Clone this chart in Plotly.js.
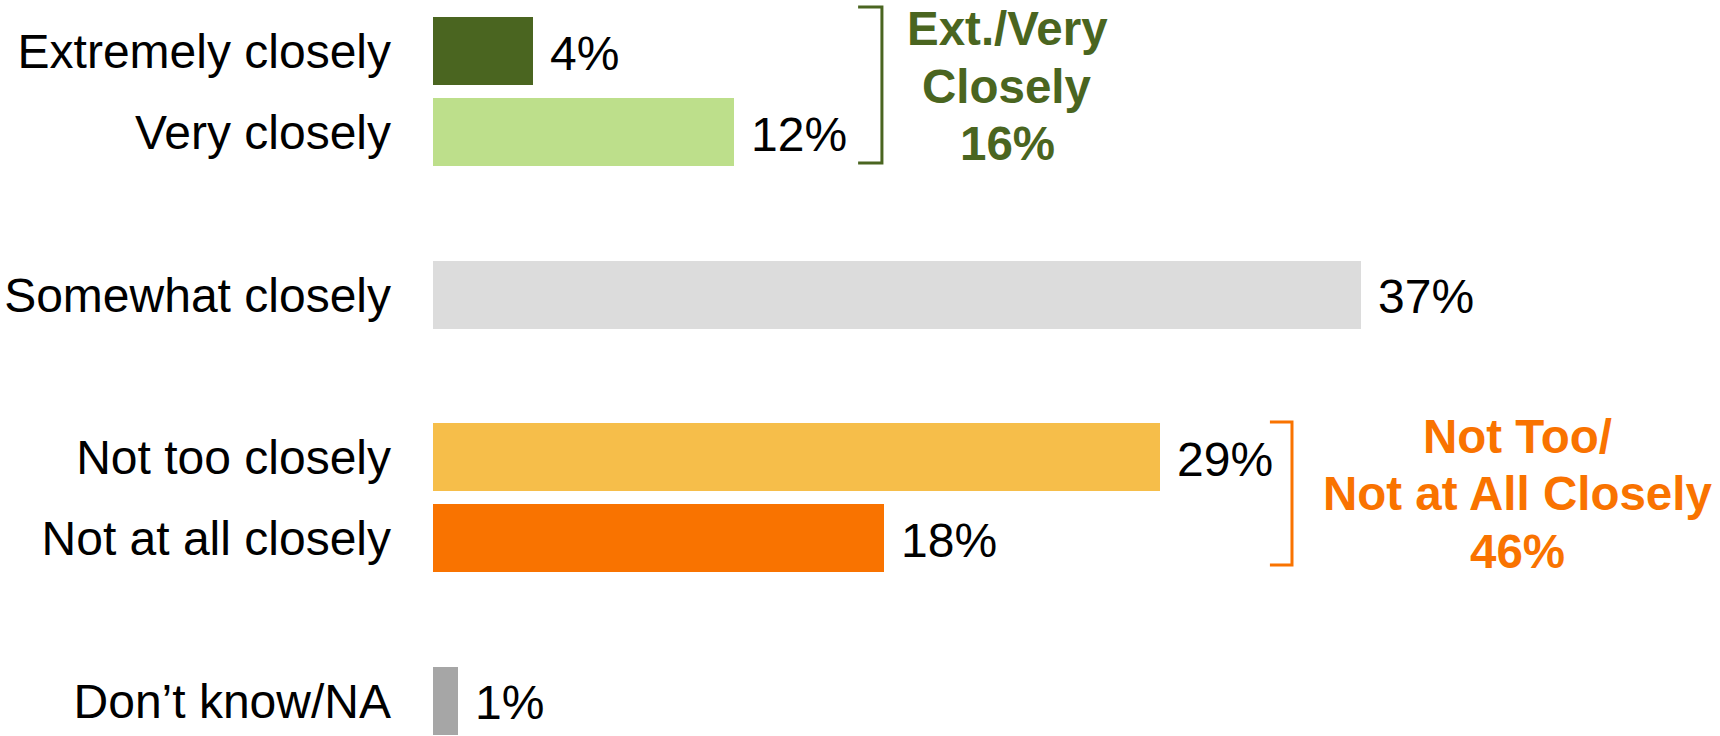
<!DOCTYPE html>
<html>
<head>
<meta charset="utf-8">
<script src="https://cdn.plot.ly/plotly-3.0.1.min.js"></script>
<style>html,body{margin:0;padding:0;background:#fff;}#chart{width:1720px;height:736px;}</style>
</head>
<body>
<div id="chart"></div>
<script>
// ---- data ----
const categories = ["Extremely closely", "Very closely", "Somewhat closely", "Not too closely", "Not at all closely", "Don\u2019t know/NA"];
const values = [4, 12, 37, 29, 18, 1];
const valueLabels = ["4%", "12%", "37%", "29%", "18%", "1%"];
const groupGreenLines = ["Ext./Very", "Closely", "16%"];
const groupOrangeLines = ["Not Too/", "Not at All Closely", "46%"];

// ---- style ----
const barColors = ["#4a6520", "#bddf8b", "#dcdcdc", "#f6be4a", "#f97300", "#a6a6a6"];
const green = "#4a6520", orange = "#f97300";
const FONT = "Liberation Sans, Arial, sans-serif";
// axis order with blank spacer categories for the gaps
const spacers = [" ", "  ", "   "];
const categoryOrder = [categories[0], categories[1], spacers[0], categories[2], spacers[1], categories[3], categories[4], spacers[2], categories[5]];
const tickText = categoryOrder.map(c => c.trim() === "" ? "" : c);

const trace = {
  type: "bar",
  orientation: "h",
  x: values,
  y: categories,
  width: 0.837,
  marker: {color: barColors},
  hoverinfo: "skip"
};

const annotations = [];
values.forEach((v, i) => {
  annotations.push({
    x: v, y: categories[i], xref: "x", yref: "y",
    text: valueLabels[i], showarrow: false, xanchor: "left", yanchor: "middle",
    xshift: 15, yshift: -2, font: {family: FONT, size: 48, color: "#000"}
  });
});
const H = 736;
const greenCenters = [29, 87, 143];
groupGreenLines.forEach((t, i) => {
  annotations.push({
    x: 22.89, y: 1 - greenCenters[i] / H, xref: "x", yref: "paper",
    text: "<b>" + t + "</b>", showarrow: false, xanchor: "center", yanchor: "middle",
    font: {family: FONT, size: 47.5, color: green}
  });
});
const orangeCenters = [436, 493, 551];
groupOrangeLines.forEach((t, i) => {
  annotations.push({
    x: 43.26, y: 1 - orangeCenters[i] / H, xref: "x", yref: "paper",
    text: "<b>" + t + "</b>", showarrow: false, xanchor: "center", yanchor: "middle",
    font: {family: FONT, size: 47.5, color: orange}
  });
});

function bracket(x0, x1, py0, py1, color) {
  const y0 = 1 - py0 / H, y1 = 1 - py1 / H;
  return {
    type: "path", xref: "x", yref: "paper",
    path: `M ${x0},${y0} L ${x1},${y0} L ${x1},${y1} L ${x0},${y1}`,
    line: {color: color, width: 3}
  };
}

const layout = {
  width: 1720, height: 736,
  margin: {l: 433, r: 33, t: 0, b: 0, pad: 0},
  paper_bgcolor: "#fff", plot_bgcolor: "#fff",
  showlegend: false,
  bargap: 0,
  xaxis: {range: [0, 50], visible: false, fixedrange: true},
  yaxis: {
    type: "category",
    categoryorder: "array", categoryarray: categoryOrder,
    tickmode: "array", tickvals: categoryOrder, ticktext: tickText,
    range: [8.431, -0.628],
    showgrid: false, zeroline: false, showline: false, ticks: "",
    ticklabelstandoff: 41,
    tickfont: {family: FONT, size: 48, color: "#000"},
    fixedrange: true
  },
  shapes: [
    bracket(16.95, 17.9, 7, 163, green),
    bracket(33.37, 34.25, 422, 565, orange)
  ],
  annotations: annotations
};

Plotly.newPlot("chart", [trace], layout, {displayModeBar: false, staticPlot: true});
</script>
</body>
</html>
